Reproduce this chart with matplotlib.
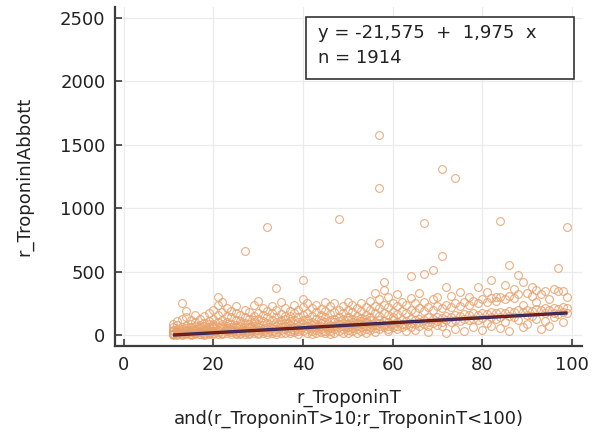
import matplotlib as mpl
mpl.use('Agg')
import matplotlib.pyplot as plt

plt.rcParams['font.family'] = ['DejaVu Sans']

# regression coefficients and sample size shown in the box
intercept = -21.575
slope = 1.975
n_total = 1914

# (TroponinT, TroponinI Abbott) pairs, grouped by decade of TroponinT
pts_10s = [
    (11, 5), (11, 20), (11, 40), (11, 12), (11, 60), (11, 30), (11, 2), (11, 85),
    (12, 8), (12, 25), (12, 50), (12, 80), (12, 15), (12, 110), (12, 3), (12, 35),
    (13, 10), (13, 35), (13, 250), (13, 60), (13, 20), (13, 130), (13, 45), (13, 4),
    (14, 5), (14, 30), (14, 75), (14, 140), (14, 18), (14, 55), (14, 190), (14, 42),
    (15, 12), (15, 40), (15, 90), (15, 25), (15, 60), (15, 120), (15, 8), (15, 2),
    (16, 15), (16, 45), (16, 100), (16, 30), (16, 70), (16, 160), (16, 20), (16, 6),
    (17, 10), (17, 35), (17, 80), (17, 55), (17, 130), (17, 25), (17, 5), (17, 65),
    (18, 20), (18, 50), (18, 95), (18, 150), (18, 35), (18, 70), (18, 12), (18, 3),
    (19, 15), (19, 40), (19, 110), (19, 65), (19, 25), (19, 170), (19, 85), (19, 7),
]
pts_20s = [
    (20, 18), (20, 55), (20, 90), (20, 130), (20, 30), (20, 200), (20, 70), (20, 5),
    (21, 300), (21, 25), (21, 60), (21, 105), (21, 160), (21, 40), (21, 10), (21, 240),
    (22, 20), (22, 70), (22, 120), (22, 45), (22, 180), (22, 90), (22, 260), (22, 6),
    (23, 30), (23, 55), (23, 100), (23, 150), (23, 15), (23, 210), (23, 75), (23, 40),
    (24, 25), (24, 65), (24, 140), (24, 90), (24, 40), (24, 190), (24, 8), (24, 50),
    (25, 35), (25, 80), (25, 120), (25, 20), (25, 170), (25, 60), (25, 230), (25, 10),
    (26, 30), (26, 75), (26, 110), (26, 50), (26, 160), (26, 15), (26, 90), (26, 5),
    (27, 660), (27, 40), (27, 95), (27, 140), (27, 60), (27, 200), (27, 25), (27, 12),
    (28, 35), (28, 85), (28, 130), (28, 55), (28, 180), (28, 20), (28, 8), (28, 65),
    (29, 45), (29, 100), (29, 70), (29, 150), (29, 30), (29, 240), (29, 15), (29, 120),
]
pts_30s = [
    (30, 40), (30, 90), (30, 60), (30, 125), (30, 175), (30, 20), (30, 270), (30, 10),
    (31, 50), (31, 110), (31, 80), (31, 30), (31, 160), (31, 210), (31, 15),
    (32, 850), (32, 45), (32, 95), (32, 140), (32, 65), (32, 25), (32, 190), (32, 10),
    (33, 55), (33, 120), (33, 80), (33, 170), (33, 35), (33, 230), (33, 18),
    (34, 370), (34, 50), (34, 100), (34, 145), (34, 70), (34, 25), (34, 200), (34, 12),
    (35, 60), (35, 115), (35, 85), (35, 165), (35, 40), (35, 260), (35, 20),
    (36, 45), (36, 95), (36, 130), (36, 70), (36, 210), (36, 20), (36, 150),
    (37, 55), (37, 110), (37, 80), (37, 150), (37, 35), (37, 190), (37, 15),
    (38, 65), (38, 120), (38, 90), (38, 175), (38, 40), (38, 240), (38, 22),
    (39, 50), (39, 100), (39, 140), (39, 75), (39, 30), (39, 200), (39, 12),
]
pts_40s = [
    (40, 432), (40, 60), (40, 115), (40, 85), (40, 160), (40, 35), (40, 220), (40, 280),
    (41, 70), (41, 125), (41, 95), (41, 175), (41, 45), (41, 250), (41, 20),
    (42, 55), (42, 105), (42, 150), (42, 80), (42, 30), (42, 210), (42, 12),
    (43, 65), (43, 130), (43, 90), (43, 180), (43, 40), (43, 240), (43, 20),
    (44, 75), (44, 115), (44, 160), (44, 50), (44, 205), (44, 25), (44, 95),
    (45, 60), (45, 140), (45, 100), (45, 190), (45, 35), (45, 260), (45, 15),
    (46, 80), (46, 120), (46, 165), (46, 55), (46, 230), (46, 30), (46, 10),
    (47, 70), (47, 130), (47, 100), (47, 185), (47, 45), (47, 250), (47, 20),
    (48, 910), (48, 85), (48, 145), (48, 60), (48, 200), (48, 110), (48, 35),
    (49, 75), (49, 125), (49, 175), (49, 50), (49, 230), (49, 95), (49, 15),
]
pts_50s = [
    (50, 90), (50, 140), (50, 65), (50, 200), (50, 40), (50, 260), (50, 115), (50, 20),
    (51, 80), (51, 130), (51, 180), (51, 55), (51, 240), (51, 100), (51, 30),
    (52, 95), (52, 150), (52, 70), (52, 210), (52, 45), (52, 120), (52, 15),
    (53, 85), (53, 135), (53, 190), (53, 60), (53, 250), (53, 110), (53, 35),
    (54, 100), (54, 160), (54, 75), (54, 220), (54, 50), (54, 125), (54, 20),
    (55, 90), (55, 145), (55, 200), (55, 65), (55, 270), (55, 115), (55, 40),
    (56, 105), (56, 170), (56, 80), (56, 230), (56, 55), (56, 330), (56, 25),
    (57, 1575), (57, 1160), (57, 722), (57, 95), (57, 150), (57, 210),
    (57, 70), (57, 280), (57, 120), (57, 45),
    (58, 416), (58, 353), (58, 110), (58, 175), (58, 80), (58, 240), (58, 60),
    (59, 100), (59, 155), (59, 220), (59, 75), (59, 300), (59, 50), (59, 30),
]
pts_60s = [
    (60, 115), (60, 180), (60, 85), (60, 250), (60, 60), (60, 140),
    (61, 105), (61, 165), (61, 230), (61, 70), (61, 320), (61, 45),
    (62, 120), (62, 190), (62, 90), (62, 260), (62, 65),
    (63, 110), (63, 170), (63, 240), (63, 80), (63, 30),
    (64, 463), (64, 125), (64, 200), (64, 95), (64, 60), (64, 290),
    (65, 115), (65, 180), (65, 250), (65, 85), (65, 40),
    (66, 130), (66, 210), (66, 100), (66, 70), (66, 330),
    (67, 879), (67, 479), (67, 120), (67, 190), (67, 260), (67, 90),
    (68, 140), (68, 220), (68, 105), (68, 75), (68, 25),
    (69, 510), (69, 130), (69, 200), (69, 95), (69, 280),
]
pts_70s = [
    (70, 145), (70, 230), (70, 110), (70, 80), (70, 300),
    (71, 1311), (71, 620), (71, 135), (71, 210), (71, 100), (71, 70),
    (72, 150), (72, 240), (72, 115), (72, 15), (72, 380),
    (73, 140), (73, 220), (73, 105), (73, 310),
    (74, 1240), (74, 160), (74, 250), (74, 120), (74, 50),
    (75, 150), (75, 230), (75, 110), (75, 340),
    (76, 165), (76, 260), (76, 125), (76, 35),
    (77, 155), (77, 240), (77, 115), (77, 300),
    (78, 170), (78, 270), (78, 130), (78, 60),
    (79, 160), (79, 250), (79, 120), (79, 380),
]
pts_80s = [
    (80, 175), (80, 280), (80, 135), (80, 40),
    (81, 165), (81, 260), (81, 95), (81, 340),
    (82, 432), (82, 180), (82, 290), (82, 140), (82, 70),
    (83, 170), (83, 270), (83, 130), (83, 300),
    (84, 895), (84, 185), (84, 300), (84, 145), (84, 55),
    (85, 392), (85, 175), (85, 280), (85, 100),
    (86, 550), (86, 190), (86, 310), (86, 150), (86, 30),
    (87, 180), (87, 290), (87, 140), (87, 360),
    (88, 471), (88, 195), (88, 320), (88, 120),
    (89, 416), (89, 185), (89, 240), (89, 60),
]
pts_90s = [
    (90, 200), (90, 330), (90, 160), (90, 90),
    (91, 190), (91, 310), (91, 150), (91, 380),
    (92, 353), (92, 205), (92, 260), (92, 130),
    (93, 195), (93, 320), (93, 45),
    (94, 210), (94, 350), (94, 170), (94, 110),
    (95, 200), (95, 280), (95, 70),
    (96, 215), (96, 360), (96, 175), (96, 140),
    (97, 525), (97, 345), (97, 205), (97, 165),
    (98, 345), (98, 220), (98, 180), (98, 100),
    (99, 848), (99, 210), (99, 170), (99, 300),
]

points = pts_10s + pts_20s + pts_30s + pts_40s + pts_50s + pts_60s + pts_70s + pts_80s + pts_90s
tnt = [p[0] for p in points]
tni = [p[1] for p in points]

fig = plt.figure(figsize=(6.06, 4.37), dpi=100)
ax = fig.add_axes([0.19, 0.208, 0.77, 0.776])

ax.grid(True, color='#ebebeb', linewidth=0.9)
ax.set_axisbelow(True)

ax.plot(tnt, tni, linestyle='none', marker='o', markersize=5.6,
        markerfacecolor='none', markeredgecolor='#e8a06a', markeredgewidth=0.8,
        alpha=0.85, zorder=2)

x0, x1 = min(tnt), max(tnt)
yfit = [intercept + slope * x0, intercept + slope * x1]
ax.plot([x0, x1], yfit, color='#2d2a66', linewidth=2.4, zorder=3, solid_capstyle='butt')
ax.plot([x0, x1], yfit, color='#7a1f1a', linewidth=1.1, zorder=4, solid_capstyle='butt')

ax.set_xlim(-1.9, 102.2)
ax.set_ylim(-87, 2583)
ax.set_xticks([0, 20, 40, 60, 80, 100])
ax.set_yticks([0, 500, 1000, 1500, 2000, 2500])

for side in ('top', 'right'):
    ax.spines[side].set_visible(False)
for side in ('left', 'bottom'):
    ax.spines[side].set_color('#3c3c3c')
    ax.spines[side].set_linewidth(1.6)
ax.tick_params(direction='in', length=5, width=1.2, color='#3c3c3c',
               labelsize=13, labelcolor='#222222', pad=7)

ax.set_xlabel('r_TroponinT\nand(r_TroponinT>10;r_TroponinT<100)',
              fontsize=13, color='#222222', linespacing=1.2, labelpad=11)
ax.set_ylabel('r_TroponinIAbbott', fontsize=13, color='#222222', labelpad=19)

box = mpl.patches.Rectangle((0.409, 0.788), 0.574, 0.183, transform=ax.transAxes,
                            facecolor='white', edgecolor='#333333', linewidth=1.2, zorder=5)
ax.add_patch(box)
ax.text(0.435, 0.922, 'y = -21,575  +  1,975  x', transform=ax.transAxes,
        fontsize=13, color='#222222', va='center', ha='left', zorder=6)
ax.text(0.435, 0.85, f'n = {n_total}', transform=ax.transAxes,
        fontsize=13, color='#222222', va='center', ha='left', zorder=6)

fig.savefig('out.png', dpi=100)
